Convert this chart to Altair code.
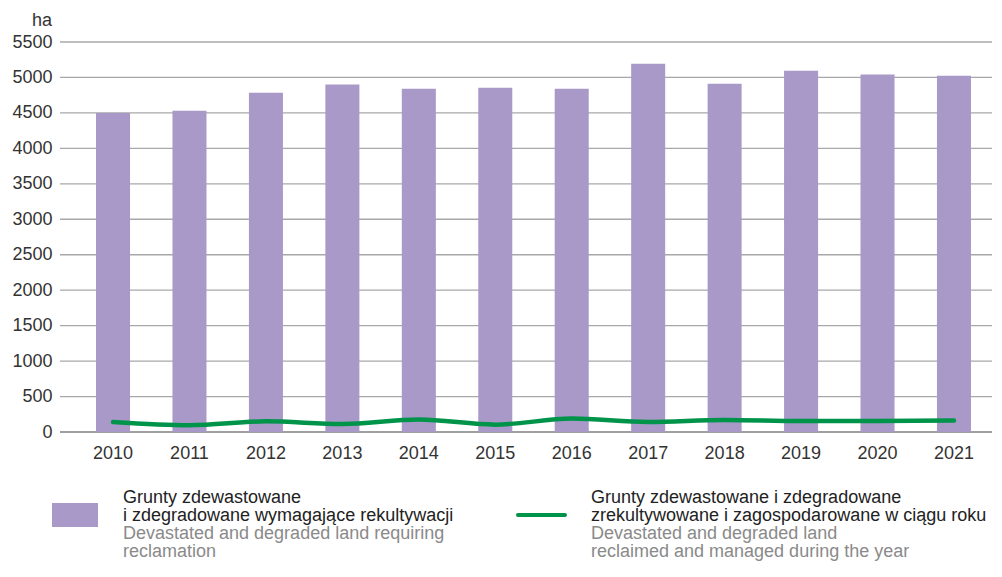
import altair as alt
import pandas as pd

years = ["2010", "2011", "2012", "2013", "2014", "2015", "2016", "2017", "2018", "2019", "2020", "2021"]
requiring = [4500, 4530, 4785, 4900, 4840, 4855, 4840, 5195, 4910, 5095, 5040, 5025]
reclaimed = [140, 95, 150, 113, 175, 104, 189, 141, 170, 155, 155, 161]
grid_values = list(range(0, 5501, 500))

legend_left_pl = ["Grunty zdewastowane", "i zdegradowane wymagające rekultywacji"]
legend_left_en = ["Devastated and degraded land requiring", "reclamation"]
legend_right_pl = ["Grunty zdewastowane i zdegradowane", "zrekultywowane i zagospodarowane w ciągu roku"]
legend_right_en = ["Devastated and degraded land", "reclaimed and managed during the year"]
unit_label = "ha"

W, H = 917, 390
FONT = "Liberation Sans"
PURPLE = "#a899c8"
GREEN = "#00944a"

df = pd.DataFrame({"year": years, "requiring": requiring, "reclaimed": reclaimed})
grid_df = pd.DataFrame({"v": grid_values})
one = pd.DataFrame({"k": [0]})

xaxis = alt.Axis(title=None, labelAngle=0, domain=False, ticks=False, labelPadding=12,
                 labelFont=FONT, labelFontSize=18, labelColor="#333333")
xenc = alt.X("year:N", sort=years, scale=alt.Scale(paddingInner=0.555, paddingOuter=0.275), axis=xaxis)
yscale = alt.Scale(domain=[0, 5500], nice=False, zero=True)
yaxis = alt.Axis(title=None, values=grid_values, format="d", domain=False, ticks=False, tickSize=0, grid=False,
                 labelPadding=23, labelFont=FONT, labelFontSize=18, labelColor="#333333")

grid = alt.Chart(grid_df).mark_rule(strokeWidth=1.3).encode(
    y=alt.Y("v:Q", scale=yscale, axis=yaxis),
    x=alt.value(-15), x2=alt.value(W),
    color=alt.condition(alt.datum.v == 0, alt.value("#7f7f7f"), alt.value("#a8a8a8")),
)

bars = alt.Chart(df).mark_bar(color=PURPLE).encode(
    x=xenc,
    y=alt.Y("requiring:Q", scale=yscale, axis=yaxis),
)

line = alt.Chart(df).mark_line(color=GREEN, strokeWidth=4.5, interpolate="monotone", strokeCap="round").encode(
    x=xenc,
    y=alt.Y("reclaimed:Q", scale=yscale, axis=yaxis),
)

unit = alt.Chart(one).mark_text(text=unit_label, align="right", baseline="alphabetic", font=FONT,
                                fontSize=18, color="#333333").encode(x=alt.value(-23), y=alt.value(-16))

swatch = alt.Chart(one).mark_rect(color=PURPLE).encode(
    x=alt.value(-23), x2=alt.value(23), y=alt.value(461), y2=alt.value(485))
greenkey = alt.Chart(one).mark_rule(color=GREEN, strokeWidth=4, strokeCap="round").encode(
    x=alt.value(443), x2=alt.value(490), y=alt.value(473))

def txt(lines, xpos, ypos, color):
    return alt.Chart(one).mark_text(text=lines, align="left", baseline="alphabetic", font=FONT,
                                    fontSize=18, lineHeight=18, color=color).encode(
        x=alt.value(xpos), y=alt.value(ypos))

t1 = txt(legend_left_pl, 48, 461, "#222222")
t2 = txt(legend_left_en, 48, 497, "#8a8a8a")
t3 = txt(legend_right_pl, 516, 461, "#222222")
t4 = txt(legend_right_en, 516, 497, "#8a8a8a")

chart = alt.layer(grid, bars, line, unit, swatch, greenkey, t1, t2, t3, t4).properties(
    width=W, height=H,
    padding={"left": 67, "top": 34, "right": 2, "bottom": 135},
    autosize=alt.AutoSizeParams(type="none"),
    background="white",
).configure_view(stroke=None)

chart.save("out.html", embed_options={"renderer": "svg", "actions": False})
